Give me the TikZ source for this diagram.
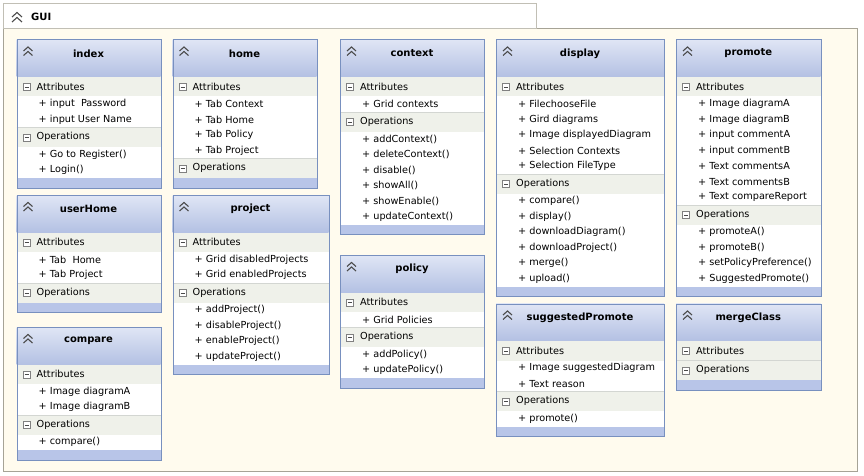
\documentclass[tikz,border=0pt]{standalone}
\usepackage{fontspec}
\setmainfont{DejaVu Sans}
\usetikzlibrary{shapes,arrows}

\definecolor{headtop}{HTML}{E0E6F5}
\definecolor{headbot}{HTML}{B3C0E3}
\definecolor{bandgray}{HTML}{EFF1EA}
\definecolor{barblue}{HTML}{B8C5E8}
\definecolor{edgeblue}{HTML}{7890BF}
\definecolor{sepgray}{HTML}{D3D6D2}
\definecolor{paper}{HTML}{FFFBEE}
\definecolor{frameline}{HTML}{A6A396}
\definecolor{iconfg}{HTML}{4A4A4A}

\tikzstyle{guiframe} = [rectangle, draw=frameline, fill=paper, anchor=north west, inner sep=0pt]
\tikzstyle{guitab} = [rectangle, draw=frameline!70, fill=white, anchor=north west, inner sep=0pt]
\tikzstyle{classbox} = [rectangle, draw=edgeblue, anchor=north west, inner sep=0pt, line width=0.9pt]
\tikzstyle{classname} = [inner sep=0pt, font=\fontsize{10}{12}\selectfont\bfseries]
\tikzstyle{bandlabel} = [anchor=west, inner sep=0pt, font=\fontsize{9.7}{12}\selectfont]
\tikzstyle{member} = [bandlabel]
\tikzstyle{minusbox} = [rectangle, draw=gray, fill=white, minimum size=7pt, inner sep=0pt,
    path picture={\draw[iconfg] ([xshift=1.5pt]path picture bounding box.west) -- ([xshift=-1.5pt]path picture bounding box.east);}]
\tikzstyle{chevron} = [draw=iconfg, line width=1.1pt]

\newcommand{\umlclass}[9]{
  \pgfmathsetmacro\ya{#4+37.5}
  \pgfmathsetmacro\yb{\ya+19.5}
  \pgfmathsetmacro\yc{\yb+15.5*#6}
  \pgfmathsetmacro\yd{\yc+19.5}
  \pgfmathsetmacro\ye{\yd+15.5*#8}
  \pgfmathsetmacro\yf{\ye+9.5}
  \pgfmathsetmacro\hh{\yf-#4}
  \pgfmathsetmacro\xr{#3+#5}
  \shade[top color=headtop, bottom color=headbot] (#3,#4) rectangle (\xr,\ya);
  \fill[bandgray] (#3,\ya) rectangle (\xr,\yb);
  \fill[white] (#3,\yb) rectangle (\xr,\yc);
  \fill[bandgray] (#3,\yc) rectangle (\xr,\yd);
  \fill[white] (#3,\yd) rectangle (\xr,\ye);
  \fill[barblue] (#3,\ye) rectangle (\xr,\yf);
  \draw[sepgray] (#3,\yc) -- (\xr,\yc);
  \node[classbox, minimum width=#5pt, minimum height=\hh pt] (#1) at (#3,#4) {};
  \draw[chevron] (#3+7,#4+11.5) -- (#3+11.5,#4+7.5) -- (#3+16,#4+11.5)
                 (#3+7,#4+16) -- (#3+11.5,#4+12) -- (#3+16,#4+16);
  \node[classname] (#1-name) at (#3+#5/2,#4+14) {#2};
  \node[minusbox] (#1-am) at (#3+10,\ya+9.75) {};
  \node[bandlabel] (#1-attr) at (#3+20,\ya+9.75) {Attributes};
  \node[minusbox] (#1-om) at (#3+10,\yc+9.75) {};
  \node[bandlabel] (#1-ops) at (#3+20,\yc+9.75) {Operations};
  \ifnum#6>0
    \foreach \m [count=\idx] in {#7}
      \node[member] (#1-a\idx) at (#3+22,\yb+15.5*\idx-7.75) {\m};
  \fi
  \ifnum#8>0
    \foreach \m [count=\idx] in {#9}
      \node[member] (#1-o\idx) at (#3+22,\yd+15.5*\idx-7.75) {\m};
  \fi
}

\begin{document}
\begin{tikzpicture}[x=1pt, y=-1pt]
    \useasboundingbox (0,0) rectangle (864,476);

    \node [guiframe, minimum width=854pt, minimum height=443pt] (gui) at (3,28) {};
    \node [guitab, minimum width=533pt, minimum height=25pt] (guitab) at (3,3) {};
    \draw [chevron] (12,17) -- (17,12.5) -- (22,17) (12,22) -- (17,17.5) -- (22,22);
    \node [classname, anchor=west] (guilabel) at (31,17) {GUI};

    \umlclass{index}{index}{16.5}{39.5}{144}
        {2}{+ input~ Password, + input User Name}
        {2}{+ Go to Register(), + Login()}
    \umlclass{home}{home}{172.5}{39.5}{144}
        {4}{+ Tab Context, + Tab Home, + Tab Policy, + Tab Project}
        {0}{}
    \umlclass{userHome}{userHome}{16.5}{195}{144}
        {2}{+ Tab~ Home, + Tab Project}
        {0}{}
    \umlclass{compare}{compare}{16.5}{327}{144}
        {2}{+ Image diagramA, + Image diagramB}
        {1}{+ compare()}
    \umlclass{project}{project}{172.5}{195}{156}
        {2}{+ Grid disabledProjects, + Grid enabledProjects}
        {4}{+ addProject(), + disableProject(), + enableProject(), + updateProject()}
    \umlclass{context}{context}{340}{39.5}{144}
        {1}{+ Grid contexts}
        {6}{+ addContext(), + deleteContext(), + disable(), + showAll(), + showEnable(), + updateContext()}
    \umlclass{policy}{policy}{340}{255}{144}
        {1}{+ Grid Policies}
        {2}{+ addPolicy(), + updatePolicy()}
    \umlclass{display}{display}{496}{39.5}{168}
        {5}{+ FilechooseFile, + Gird diagrams, + Image displayedDiagram, + Selection Contexts, + Selection FileType}
        {6}{+ compare(), + display(), + downloadDiagram(), + downloadProject(), + merge(), + upload()}
    \umlclass{suggestedPromote}{suggestedPromote}{496}{303.5}{168}
        {2}{+ Image suggestedDiagram, + Text reason}
        {1}{+ promote()}
    \umlclass{promote}{promote}{676}{39.5}{144.5}
        {7}{+ Image diagramA, + Image diagramB, + input commentA, + input commentB, + Text commentsA, + Text commentsB, + Text compareReport}
        {4}{+ promoteA(), + promoteB(), + setPolicyPreference(), + SuggestedPromote()}
    \umlclass{mergeClass}{mergeClass}{676}{303.5}{144.5}
        {0}{}
        {0}{}

\end{tikzpicture}
\end{document}
